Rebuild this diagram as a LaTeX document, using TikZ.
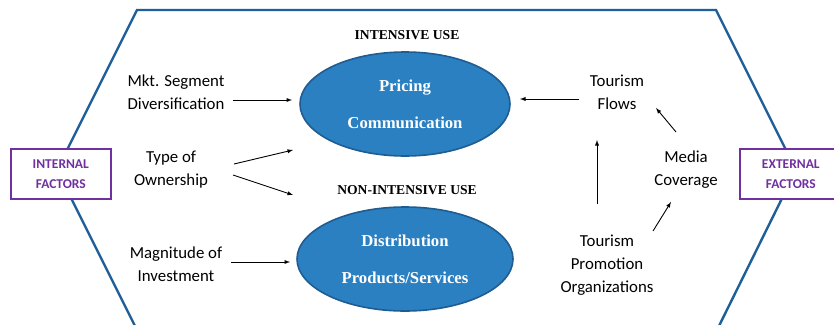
\documentclass[tikz,border=0pt]{standalone}
\usepackage{fontspec}
\setmainfont{Liberation Serif}
\newfontfamily\calib{Carlito}
\usetikzlibrary{arrows,shapes.geometric}
\definecolor{hexblue}{RGB}{31,95,153}
\definecolor{ellfill}{RGB}{43,128,194}
\definecolor{ellline}{RGB}{30,92,145}
\definecolor{factpurple}{RGB}{112,48,160}

\begin{document}
\begin{tikzpicture}[x=1pt,y=-1pt]
\tikzstyle{every node}=[inner sep=1pt, align=center]
\tikzstyle{factor}=[font=\calib\fontsize{16.8}{23}\selectfont]
\tikzstyle{usebox}=[draw=ellline, line width=1.6pt, fill=ellfill, ellipse, inner sep=0pt, minimum width=210pt, minimum height=104pt, text=white, font=\bfseries\fontsize{16.7}{37}\selectfont]
\tikzstyle{headline}=[font=\bfseries\fontsize{13.6}{14}\selectfont]
\tikzstyle{sidebox}=[draw=factpurple, fill=white, line width=1.6pt, text=factpurple, minimum height=50pt, font=\calib\bfseries\fontsize{13.5}{20}\selectfont]
\tikzstyle{arr}=[-latex, line width=0.9pt]
\useasboundingbox (0,0) rectangle (834,324);
\clip (0,0) rectangle (834,324);
% outline
\draw[hexblue, line width=2.4pt] (137,10) -- (716,10) -- (796,170) -- (717,330) -- (137,330) -- (57,170) -- cycle;
\draw (10,148) node (int) [sidebox, anchor=north west, minimum width=100pt] {INTERNAL\\FACTORS};
\draw (739,148) node (ext) [sidebox, anchor=north west, minimum width=102pt] {EXTERNAL\\FACTORS};
% uses
\draw (407,35) node (iu) [headline] {INTENSIVE USE};
\draw (405,104) node (pc) [usebox] {Pricing\\Communication};
\draw (407,190) node (niu) [headline] {NON-INTENSIVE USE};
\draw (405,259) node (dp) [usebox, minimum width=216pt] {Distribution\\Products/Services};
% internal
\draw (176,92) node (mkt) [factor] {Mkt. Segment\\Diversification};
\draw (171,170) node (own) [factor] {Type of\\Ownership};
\draw (176,264) node (mag) [factor] {Magnitude of\\Investment};
% external
\draw (617,92) node (flow) [factor] {Tourism\\Flows};
\draw (686,170) node (media) [factor] {Media\\Coverage};
\draw (607,265) node (promo) [factor] {Tourism\\Promotion\\Organizations};
% arrow ends
\coordinate (mkt1) at (233,100);
\coordinate (mkt2) at (292,100);
\coordinate (own0) at (234,164);
\coordinate (own1) at (293,150);
\coordinate (own3) at (233,175);
\coordinate (own2) at (293,195);
\coordinate (mag1) at (231,262);
\coordinate (mag2) at (290,262);
\coordinate (flow1) at (579,99);
\coordinate (flow2) at (520,99);
\coordinate (promo1) at (597,204);
\coordinate (promo2) at (597,140);
\coordinate (media1) at (676,132);
\coordinate (media2) at (656,108);
\coordinate (promo3) at (653,231);
\coordinate (media3) at (671,202);
\draw[arr] (mkt1) -- (mkt2);
\draw[arr] (own0) -- (own1);
\draw[arr] (own3) -- (own2);
\draw[arr] (mag1) -- (mag2);
\draw[arr] (flow1) -- (flow2);
\draw[arr] (promo1) -- (promo2);
\draw[arr] (media1) -- (media2);
\draw[arr] (promo3) -- (media3);
\end{tikzpicture}
\end{document}
